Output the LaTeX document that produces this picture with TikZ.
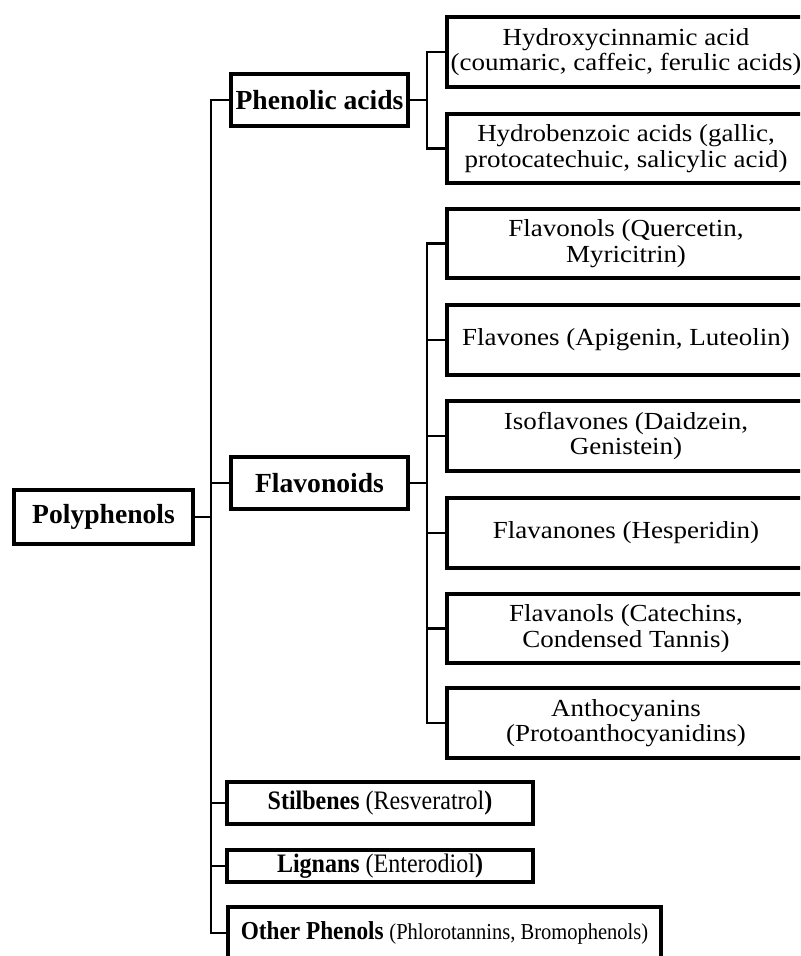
\documentclass[tikz,border=0pt]{standalone}
\usepackage{fontspec}
\setmainfont{Liberation Serif}
\newfontfamily\widefont[FakeStretch=1.1]{Liberation Serif}
\newfontfamily\narrowfont[FakeStretch=0.9]{Liberation Serif}
\usetikzlibrary{positioning}

\begin{document}
\begin{tikzpicture}[
  x=0.75pt, y=-0.75pt,
  box/.style={draw,line width=3pt,inner sep=0,align=center},
  head/.style={box,minimum width=133pt,minimum height=39pt,font=\fontsize{20.7}{24}\selectfont\bfseries},
  leaf/.style={box,minimum width=268.5pt,minimum height=52pt,font=\widefont\fontsize{18.4}{19.2}\selectfont},
  low/.style={box,minimum width=229.5pt,font=\narrowfont\fontsize{20}{22}\selectfont},
  link/.style={line width=1.7pt},
]
  \useasboundingbox (0,0) rectangle (800,956);
  \clip (0,0) rectangle (800,956);

  \node[head,minimum width=134pt,minimum height=40.5pt] (poly) at (103.5,517) {Polyphenols};
  \node[head] (phen) at (319.5,100) {Phenolic acids};
  \node[head] (flav) at (319.5,483) {Flavonoids};

  \node[leaf] (pa-1) at (626,52) {Hydroxycinnamic acid\\(coumaric, caffeic, ferulic acids)};
  \node[leaf] (pa-2) at (626,148.5) {Hydrobenzoic acids (gallic,\\protocatechuic, salicylic acid)};
  \foreach \i/\y/\txt in {1/243.5/{Flavonols (Quercetin,\\Myricitrin)},
                          2/340/{Flavones (Apigenin, Luteolin)},
                          3/436/{Isoflavones (Daidzein,\\Genistein)},
                          4/533/{Flavanones (Hesperidin)},
                          5/628.5/{Flavanols (Catechins,\\Condensed Tannis)},
                          6/723/{Anthocyanins\\(Protoanthocyanidins)}}
    \node[leaf] (fl-\i) at (626,\y) {\txt};

  \node[low,minimum height=31.5pt] (stil) at (380,803) {\textbf{Stilbenes} (Resveratrol\textbf{)}};
  \node[low,minimum height=24pt] (lign) at (380,866) {\textbf{Lignans} (Enterodiol\textbf{)}};
  \node[box,minimum width=325pt,minimum height=39pt,font=\narrowfont] (other) at (444.5,933)
    {\fontsize{19.4}{22}\selectfont\textbf{Other Phenols} \fontsize{17.1}{22}\selectfont(Phlorotannins, Bromophenols)};

  % trunks
  \coordinate (tr) at (211,0);
  \coordinate (sub) at (427,0);
  \draw[link] (phen.west) -- (phen.west -| tr) -- (other.west -| tr) -- (other.west);
  \foreach \n/\a in {poly/east,flav/west,stil/west,lign/west}
    \draw[link] (\n.\a) -- (\n.\a -| tr);

  \draw[link] (phen.east) -- (phen.east -| sub);
  \draw[link] (pa-1.west) -- (pa-1.west -| sub) -- (pa-2.west -| sub) -- (pa-2.west);
  \draw[link] (flav.east) -- (flav.east -| sub);
  \draw[link] (fl-1.west) -- (fl-1.west -| sub) -- (fl-6.west -| sub) -- (fl-6.west);
  \foreach \i in {2,...,5}
    \draw[link] (fl-\i.west) -- (fl-\i.west -| sub);
\end{tikzpicture}
\end{document}
